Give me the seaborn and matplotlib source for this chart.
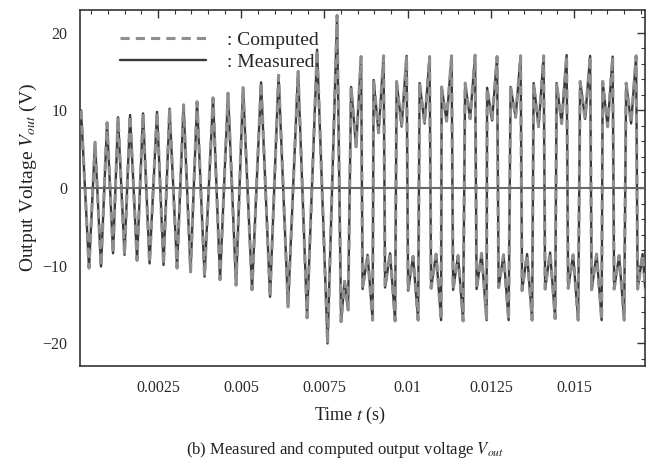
import numpy as np
import pandas as pd
import matplotlib
matplotlib.use("Agg")
import matplotlib.pyplot as plt
from matplotlib.ticker import MultipleLocator
import seaborn as sns

# ---- start-up oscillation: alternating maxima / minima (time in ms, volts)
early_peak_t = [0.186, 0.607, 0.968, 1.298, 1.659, 2.049, 2.470, 2.846, 3.266,
                3.672, 4.153, 4.603, 5.054, 5.595, 6.121, 6.707, 7.278, 7.879]
early_peak_v = [10.0, 5.9, 8.4, 9.1, 9.4, 9.6, 9.8, 10.2, 10.7,
                11.1, 11.6, 12.2, 12.9, 13.6, 14.5, 15.0, 17.8, 22.2]
early_trough_t = [0.427, 0.787, 1.148, 1.493, 1.869, 2.245, 2.665, 3.071, 3.477,
                  3.897, 4.363, 4.844, 5.324, 5.865, 6.406, 6.977, 7.593]
early_trough_v = [-10.3, -10.1, -8.4, -8.6, -9.3, -9.7, -9.9, -10.3, -10.8,
                  -11.4, -11.8, -12.5, -13.1, -14.0, -15.3, -16.7, -20.0]

# ---- steady state: positive half-cycle (first ring peak, dip, main peak)
pos_ring_t = [8.300, 8.976, 9.667, 10.358, 11.019, 11.725, 12.386,
              13.092, 13.784, 14.475, 15.181, 15.857, 16.563]
pos_ring_v = [13.0, 13.9, 13.7, 13.5, 13.0, 13.5, 12.9,
              13.0, 13.5, 13.5, 13.7, 13.7, 13.5]
pos_dip_t = [8.450, 9.126, 9.817, 10.508, 11.169, 11.875, 12.536,
             13.242, 13.934, 14.625, 15.331, 16.007, 16.713]
pos_dip_v = [5.3, 7.1, 7.9, 8.3, 8.6, 8.9, 8.7,
             9.1, 7.9, 8.3, 8.9, 7.9, 8.3]
pos_peak_t = [8.600, 9.276, 9.967, 10.658, 11.319, 12.025, 12.686,
              13.392, 14.084, 14.775, 15.481, 16.157, 16.863]
pos_peak_v = [16.9, 17.0, 17.0, 16.9, 17.0, 17.1, 16.9,
              17.0, 17.0, 17.1, 17.0, 16.9, 17.0]

# ---- steady state: negative half-cycle (first ring trough, bump, main trough)
neg_ring_t = [7.999, 8.645, 9.321, 10.012, 10.703, 11.364, 12.070, 12.731,
              13.437, 14.129, 14.820, 15.526, 16.202, 16.908]
neg_ring_v = [-17.2, -13.0, -12.8, -13.2, -12.9, -13.1, -13.0, -12.8,
              -13.2, -13.0, -12.9, -13.1, -13.0, -13.0]
neg_bump_t = [8.104, 8.795, 9.471, 10.162, 10.853, 11.514, 12.220, 12.881,
              13.587, 14.279, 14.970, 15.676, 16.352, 17.058]
neg_bump_v = [-12.0, -8.6, -8.4, -8.8, -8.5, -8.7, -8.4, -8.6,
              -8.5, -8.3, -8.6, -8.5, -8.7, -8.5]
neg_peak_t = [8.209, 8.946, 9.622, 10.313, 11.004, 11.665, 12.371, 13.032,
              13.738, 14.430, 15.121, 15.827, 16.503, 17.209]
neg_peak_v = [-15.7, -17.0, -17.1, -17.0, -17.0, -17.1, -17.0, -17.0,
              -17.0, -16.8, -17.0, -17.0, -17.0, -17.0]

x_ticks = [0.0025, 0.005, 0.0075, 0.01, 0.0125, 0.015]
x_tick_labels = ["0.0025", "0.005", "0.0075", "0.01", "0.0125", "0.015"]
y_ticks = [-20, -10, 0, 10, 20]
y_tick_labels = ["\u221220", "\u221210", "0", "10", "20"]

t_all = (early_peak_t + early_trough_t + pos_ring_t + pos_dip_t + pos_peak_t
         + neg_ring_t + neg_bump_t + neg_peak_t)
v_all = (early_peak_v + early_trough_v + pos_ring_v + pos_dip_v + pos_peak_v
         + neg_ring_v + neg_bump_v + neg_peak_v)
wave = pd.DataFrame({"t": np.array(t_all) / 1000.0, "v": v_all}).sort_values("t")

sns.set_theme(style="white")
plt.rcParams["font.family"] = ["Liberation Serif", "DejaVu Serif"]
plt.rcParams["mathtext.fontset"] = "stix"

fig = plt.figure(figsize=(6.48, 4.66), dpi=100)
ax = fig.add_axes([0.1235, 0.2146, 0.8719, 0.7639])

sns.lineplot(data=wave, x="t", y="v", ax=ax, estimator=None, sort=False,
             color="#3a3a3a", lw=1.7, solid_joinstyle="round", label=": Measured",
             zorder=2)
sns.lineplot(data=wave, x="t", y="v", ax=ax, estimator=None, sort=False,
             color="#8e8e8e", lw=2.2, dashes=False, label=": Computed", zorder=3)
comp_line = ax.get_lines()[-1]
comp_line.set_dashes((3, 2))
comp_line.set_dash_joinstyle("round")

ax.axhline(0, color="#6a6a6a", lw=1.5, zorder=4)

ax.set_xlim(0.000156, 0.01713)
ax.set_ylim(-22.9, 22.9)
ax.set_xticks(x_ticks)
ax.set_xticklabels(x_tick_labels)
ax.set_yticks(y_ticks)
ax.set_yticklabels(y_tick_labels)
ax.xaxis.set_minor_locator(MultipleLocator(0.0005))
ax.yaxis.set_minor_locator(MultipleLocator(2))
ax.tick_params(which="both", direction="in", top=True, right=True,
               color="#333333", labelcolor="#2a2a2a", labelsize=11.5)
ax.tick_params(which="major", length=6, width=1.0)
ax.tick_params(which="minor", length=3, width=0.8)
ax.tick_params(axis="x", pad=10)
ax.tick_params(axis="y", pad=9)
for s in ax.spines.values():
    s.set_color("#333333")
    s.set_linewidth(1.2)

ax.set_xlabel("Time $t$ (s)", fontsize=13, color="#222222")
ax.xaxis.set_label_coords(0.478, -0.11)
ax.set_ylabel("Output Voltage $V_{out}$ (V)", fontsize=14, color="#222222")
ax.yaxis.set_label_coords(-0.072, 0.53)

handles, labels = ax.get_legend_handles_labels()
leg = ax.legend(handles[::-1], labels[::-1], loc="upper left",
                bbox_to_anchor=(0.04, 0.99), frameon=False, fontsize=14,
                handlelength=4.4, handletextpad=1.1, labelspacing=0.25)
leg.get_lines()[0].set_dashes((3, 2))

fig.text(0.533, 0.034, "(b) Measured and computed output voltage $V_{out}$",
         ha="center", va="center", fontsize=12, color="#222222")

fig.savefig("out.png", dpi=100)
